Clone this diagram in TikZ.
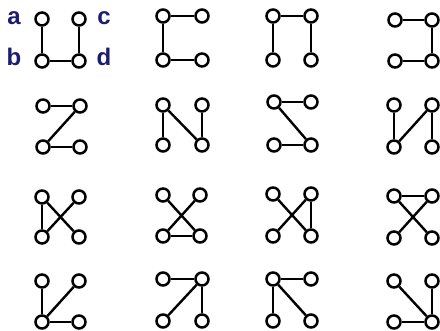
\documentclass[tikz,border=0pt]{standalone}
\usepackage{fontspec}
\setmainfont{Liberation Sans}
\definecolor{navy}{RGB}{28,28,112}
\tikzset{
  vtx/.style={circle,draw=black,fill=white,line width=2.5pt,inner sep=0pt,minimum size=13pt},
  edg/.style={line width=2.4pt,black},
  lbl/.style={text=navy,font=\bfseries\fontsize{24}{24}\selectfont,inner sep=0pt,anchor=base}
}
\newcommand\kgraph[6]{%
  \node[vtx] (#1a) at (#2,#4) {};
  \node[vtx] (#1c) at (#3,#4) {};
  \node[vtx] (#1b) at (#2,#5) {};
  \node[vtx] (#1d) at (#3,#5) {};
  \foreach \u/\v in {#6} { \draw[edg] (#1\u) -- (#1\v); }
}
\begin{document}
\begin{tikzpicture}[x=1pt,y=-1pt]
\useasboundingbox (0,0) rectangle (440,331);
% row 1
\kgraph{ga}{42}{79}{19}{61}{a/b,b/d,c/d}
\kgraph{gb}{163}{202}{16}{60}{a/c,a/b,b/d}
\kgraph{gc}{273}{311}{16}{60}{a/c,a/b,c/d}
\kgraph{gd}{395}{432}{20}{61}{a/c,c/d,b/d}
% row 2
\kgraph{ge}{43}{80}{106}{147}{a/c,c/b,b/d}
\kgraph{gf}{163}{202}{105}{145}{a/b,a/d,c/d}
\kgraph{gg}{274}{311}{102}{145}{a/c,a/d,b/d}
\kgraph{gh}{394}{432}{105}{147}{a/b,b/c,c/d}
% row 3
\kgraph{gi}{42}{79}{197}{237}{a/b,a/d,b/c}
\kgraph{gj}{163}{200}{195}{236}{a/d,b/c,b/d}
\kgraph{gk}{273}{311}{194}{236}{a/d,b/c,c/d}
\kgraph{gl}{394}{432}{196}{238}{a/c,a/d,b/c}
% row 4
\kgraph{gm}{42}{79}{281}{322}{a/b,b/c,b/d}
\kgraph{gn}{163}{202}{279}{321}{a/c,c/b,c/d}
\kgraph{go}{273}{311}{279}{321}{a/c,a/b,a/d}
\kgraph{gp}{394}{432}{281}{322}{a/d,b/d,c/d}
% labels
\node[lbl] (la) at (14,25) {a};
\node[lbl] (lb) at (14,66) {b};
\node[lbl] (lc) at (104,25) {c};
\node[lbl] (ld) at (104,66) {d};
\end{tikzpicture}
\end{document}
